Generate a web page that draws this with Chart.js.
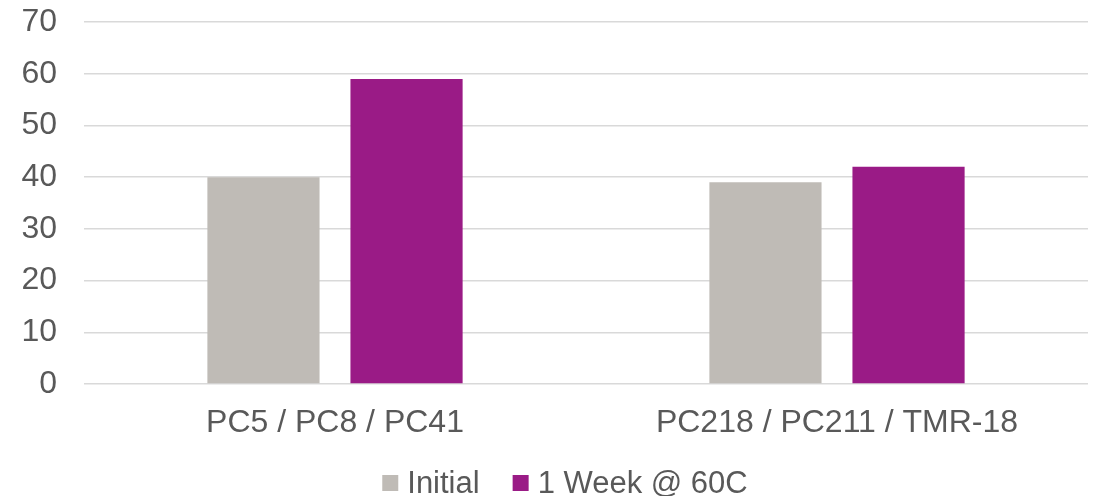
<!DOCTYPE html>
<html>
<head>
<meta charset="utf-8">
<script src="https://cdn.jsdelivr.net/npm/chart.js@4"></script>
<style>
  html, body { margin: 0; padding: 0; background: #ffffff; overflow: hidden; }
  #wrap { width: 1094px; height: 496px; }
</style>
</head>
<body>
<div id="wrap"><canvas id="c" width="1094" height="496"></canvas></div>
<script>
const categories = ['PC5 / PC8 / PC41', 'PC218 / PC211 / TMR-18'];
const initialValues = [40, 39];
const weekValues = [59, 42];
const seriesNames = ['Initial', '1 Week @ 60C'];
const yTicks = [0, 10, 20, 30, 40, 50, 60, 70];

const textColor = '#595959';
const fontFamily = '"Liberation Sans", Arial, sans-serif';
const axisFontSize = 32;
const legendFontSize = 31;

// Legend row drawn under the x axis: square swatch, label, spacing between entries.
const bottomLegend = {
  id: 'bottomLegend',
  afterDraw(chart) {
    const ctx = chart.ctx;
    const box = 16, gap = 9, itemGap = 33;
    ctx.save();
    ctx.font = legendFontSize + 'px ' + fontFamily;
    ctx.textBaseline = 'middle';
    ctx.textAlign = 'left';
    const items = chart.data.datasets.map(ds => ({
      label: ds.label,
      color: ds.backgroundColor,
      w: ctx.measureText(ds.label).width
    }));
    const total = items.reduce((s, it) => s + box + gap + it.w, 0) + itemGap * (items.length - 1);
    const cy = chart.height - 13;
    let x = chart.width / 2 + 18 - total / 2;
    items.forEach(it => {
      ctx.fillStyle = it.color;
      ctx.fillRect(x, cy - box / 2, box, box);
      x += box + gap;
      ctx.fillStyle = textColor;
      ctx.fillText(it.label, x, cy + 1);
      x += it.w + itemGap;
    });
    ctx.restore();
  }
};

new Chart(document.getElementById('c'), {
  type: 'bar',
  data: {
    labels: categories,
    datasets: [
      { label: seriesNames[0], data: initialValues, backgroundColor: '#BFBBB6' },
      { label: seriesNames[1], data: weekValues, backgroundColor: '#9A1B86' }
    ]
  },
  plugins: [bottomLegend],
  options: {
    responsive: false,
    animation: false,
    devicePixelRatio: 1,
    categoryPercentage: 0.57,
    barPercentage: 0.784,
    layout: { padding: { left: 22, right: 6, top: 22, bottom: 56 } },
    plugins: {
      tooltip: { enabled: false },
      legend: { display: false }
    },
    scales: {
      x: {
        grid: { display: false, drawTicks: false },
        border: { display: false },
        ticks: { color: textColor, font: { family: fontFamily, size: axisFontSize }, padding: 20 },
        afterFit(axis) {
          axis.paddingLeft = 0;
          axis.paddingRight = 0;
          axis.height = 56;
        }
      },
      y: {
        min: 0,
        max: 70,
        afterBuildTicks: (axis) => { axis.ticks = yTicks.map(v => ({ value: v })); },
        grid: { color: '#D9D9D9', lineWidth: 1.5, drawTicks: false },
        border: { display: false },
        ticks: { color: textColor, font: { family: fontFamily, size: axisFontSize }, padding: 27 },
        afterFit(axis) {
          axis.width = 62;
          axis.paddingTop = 0;
          axis.paddingBottom = 0;
        }
      }
    }
  }
});
</script>
</body>
</html>
